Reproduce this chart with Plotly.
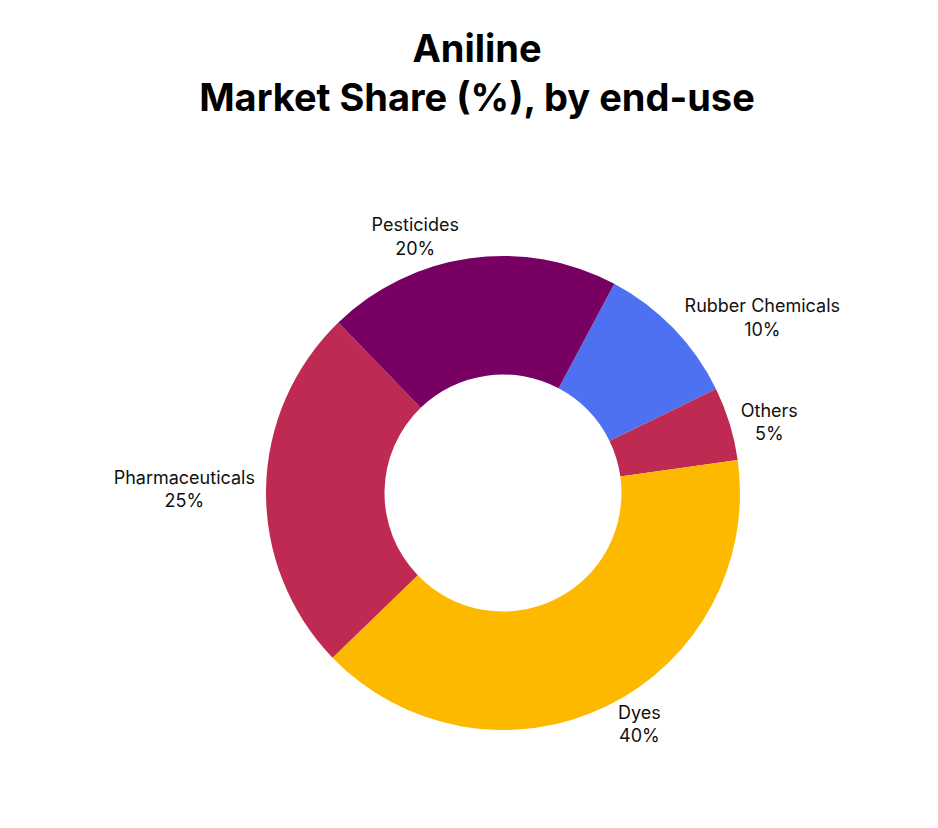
import plotly.graph_objects as go

labels = ['Rubber Chemicals', 'Others', 'Dyes', 'Pharmaceuticals', 'Pesticides']
shares = [10, 5, 40, 25, 20]
colors = ['#4E71F2', '#BF2A52', '#FDB800', '#BF2A52', '#780062']

fig = go.Figure(go.Pie(
    labels=labels,
    values=shares,
    hole=0.5,
    sort=False,
    direction='clockwise',
    rotation=28,
    marker=dict(colors=colors),
    texttemplate='%{label}<br>%{value}%',
    textposition='outside',
    textfont=dict(size=18, color='#111111'),
    showlegend=False,
))

fig.update_layout(
    width=938, height=828,
    font=dict(family='Inter, Noto Sans, sans-serif'),
    title=dict(text='<b>Aniline<br>Market Share (%), by end-use</b>',
               x=0.5, y=0.935, xanchor='center', font=dict(size=38, color='#000000')),
    margin=dict(t=248, b=106, l=150, r=150),
    paper_bgcolor='white',
)

fig.write_html("out.html")
